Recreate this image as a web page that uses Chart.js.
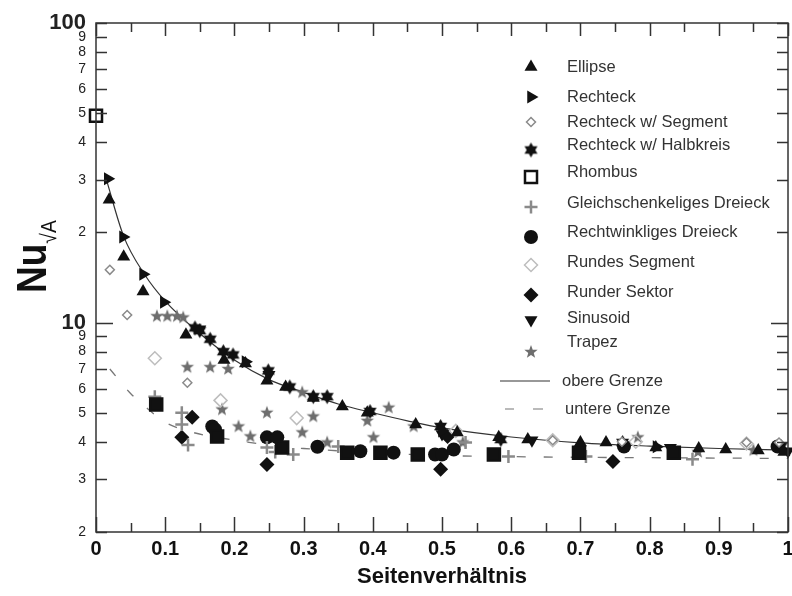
<!DOCTYPE html>
<html>
<head>
<meta charset="utf-8">
<script src="https://cdn.jsdelivr.net/npm/chart.js@4.4.0/dist/chart.umd.min.js"></script>
<style>
html, body { margin: 0; padding: 0; background: #fff; }
#wrap { width: 792px; height: 596px; }
</style>
</head>
<body>
<div id="wrap"><canvas id="js--chart"></canvas></div>
<script>
// ticks
const xTicks = [0, 0.1, 0.2, 0.3, 0.4, 0.5, 0.6, 0.7, 0.8, 0.9, 1];
const xTickLabels = ['0', '0.1', '0.2', '0.3', '0.4', '0.5', '0.6', '0.7', '0.8', '0.9', '1'];
const xMinorTicks = [0.05, 0.15, 0.25, 0.35, 0.45, 0.55, 0.65, 0.75, 0.85, 0.95];
const yTicks = [2, 3, 4, 5, 6, 7, 8, 9, 10, 20, 30, 40, 50, 60, 70, 80, 90, 100];
const yTickLabels = ['2', '3', '4', '5', '6', '7', '8', '9', '10', '2', '3', '4', '5', '6', '7', '8', '9', '100'];

// series
const ellipseX = [0.019, 0.04, 0.068, 0.13, 0.185, 0.216, 0.247, 0.274, 0.314, 0.356, 0.392, 0.462, 0.522, 0.582, 0.624, 0.70, 0.737, 0.809, 0.871, 0.91, 0.957, 0.994];
const ellipseY = [25.7, 16.6, 12.7, 9.1, 7.5, 7.3, 6.4, 6.1, 5.6, 5.25, 5.0, 4.57, 4.3, 4.14, 4.07, 3.98, 3.98, 3.83, 3.8, 3.77, 3.74, 3.7];
const rechteckX = [0.017, 0.039, 0.068, 0.098, 0.216, 0.5, 0.81];
const rechteckY = [30.2, 19.3, 14.5, 11.7, 7.4, 4.35, 3.85];
const segmentX = [0.02, 0.045, 0.132, 0.66, 0.76, 0.94, 0.987];
const segmentY = [15.0, 10.6, 6.3, 4.05, 4.0, 3.98, 3.98];
const halbkreisX = [0.143, 0.15, 0.165, 0.184, 0.198, 0.249, 0.28, 0.314, 0.334, 0.396, 0.498, 0.585, 0.761, 0.99];
const halbkreisY = [9.6, 9.4, 8.8, 8.0, 7.8, 6.9, 6.1, 5.66, 5.66, 5.05, 4.5, 4.07, 3.98, 3.86];
const rhombusX = [0, 0.087, 0.175, 0.269, 0.363, 0.411, 0.465, 0.575, 0.698, 0.835];
const rhombusY = [49, 5.33, 4.17, 3.83, 3.68, 3.68, 3.63, 3.63, 3.68, 3.68];
const gleichX = [0.085, 0.124, 0.124, 0.133, 0.247, 0.259, 0.285, 0.35, 0.534, 0.596, 0.708, 0.862];
const gleichY = [5.66, 5.0, 4.57, 3.9, 3.83, 3.7, 3.63, 3.86, 3.98, 3.57, 3.57, 3.5];
const rechtwX = [0.168, 0.172, 0.247, 0.262, 0.32, 0.382, 0.43, 0.49, 0.5, 0.517, 0.763, 0.985];
const rechtwY = [4.5, 4.4, 4.14, 4.14, 3.85, 3.72, 3.68, 3.63, 3.63, 3.77, 3.86, 3.86];
const rundSegX = [0.085, 0.18, 0.29, 0.52, 0.66, 0.78, 0.94];
const rundSegY = [7.6, 5.5, 4.8, 4.35, 4.05, 4.0, 3.95];
const sektorX = [0.124, 0.139, 0.247, 0.498, 0.508, 0.747];
const sektorY = [4.14, 4.83, 3.36, 3.24, 4.17, 3.44];
const sinusX = [0.15, 0.25, 0.5, 0.63, 0.83, 1.0];
const sinusY = [9.5, 6.7, 4.25, 4.05, 3.82, 3.72];
const trapezX = [0.088, 0.103, 0.117, 0.126, 0.132, 0.165, 0.191, 0.182, 0.206, 0.223, 0.247, 0.298, 0.298, 0.314, 0.334, 0.392, 0.401, 0.423, 0.459, 0.53, 0.783, 0.87, 0.95];
const trapezY = [10.5, 10.5, 10.5, 10.4, 7.1, 7.1, 7.0, 5.13, 4.5, 4.17, 5.0, 5.85, 4.3, 4.86, 3.98, 4.7, 4.14, 5.2, 4.5, 3.98, 4.14, 3.7, 3.75];
const upperX = [0.015, 0.04, 0.07, 0.1, 0.15, 0.2, 0.25, 0.3, 0.35, 0.4, 0.45, 0.5, 0.6, 0.7, 0.8, 0.9, 1.0];
const upperY = [30, 19.4, 14.5, 11.8, 9.2, 7.5, 6.45, 5.85, 5.35, 5.0, 4.7, 4.45, 4.15, 3.97, 3.87, 3.8, 3.75];
const lowerX = [0.02, 0.05, 0.075, 0.1, 0.14, 0.2, 0.25, 0.3, 0.4, 0.5, 0.6, 0.7, 0.8, 0.9, 1.0];
const lowerY = [7.0, 5.8, 5.15, 4.65, 4.3, 4.05, 3.9, 3.8, 3.68, 3.6, 3.57, 3.55, 3.54, 3.53, 3.52];

function pairs(xs, ys) {
    return xs.map(function (x, i) { return { x: x, y: ys[i] }; });
}

function starCanvas(points, outer, inner, color) {
    const size = Math.ceil(outer * 2) + 2;
    const c = document.createElement("canvas");
    c.width = size;
    c.height = size;
    const g = c.getContext("2d");
    g.fillStyle = color;
    g.beginPath();
    for (let i = 0; i < points * 2; i++) {
        const r = i % 2 === 0 ? outer : inner;
        const a = -Math.PI / 2 + i * Math.PI / points;
        const px = size / 2 + Math.cos(a) * r;
        const py = size / 2 + Math.sin(a) * r;
        if (i === 0) g.moveTo(px, py); else g.lineTo(px, py);
    }
    g.closePath();
    g.fill();
    return c;
}

const hexStar = starCanvas(6, 7.5, 4.3, '#111');
const fiveStar = starCanvas(5, 7, 2.9, '#6e6e6e');
const black = '#111';

function points(label, xs, ys, style) {
    return Object.assign({
        label: label,
        data: pairs(xs, ys),
        showLine: false,
        clip: false,
        order: 1
    }, style);
}

const datasets = [
    points('Ellipse', ellipseX, ellipseY, { pointStyle: 'triangle', pointRadius: 7.5, backgroundColor: black, borderColor: black, borderWidth: 0 }),
    points('Rechteck', rechteckX, rechteckY, { pointStyle: 'triangle', pointRotation: 90, pointRadius: 7.5, backgroundColor: black, borderColor: black, borderWidth: 0 }),
    points('Rechteck w/ Segment', segmentX, segmentY, { pointStyle: 'rectRot', pointRadius: 4.5, backgroundColor: '#fff', borderColor: '#8a8a8a', borderWidth: 1.5 }),
    points('Rechteck w/ Halbkreis', halbkreisX, halbkreisY, { pointStyle: hexStar }),
    points('Rhombus', rhombusX, rhombusY, { pointStyle: 'rect', pointRadius: 8.5, pointBackgroundColor: rhombusX.map(function (x, i) { return i === 0 ? '#fff' : black; }), borderColor: black, borderWidth: 2.5 }),
    points('Gleichschenkeliges Dreieck', gleichX, gleichY, { pointStyle: 'cross', pointRadius: 6.5, borderColor: '#8a8a8a', borderWidth: 2.5 }),
    points('Rechtwinkliges Dreieck', rechtwX, rechtwY, { pointStyle: 'circle', pointRadius: 7, backgroundColor: black, borderColor: black, borderWidth: 0 }),
    points('Rundes Segment', rundSegX, rundSegY, { pointStyle: 'rectRot', pointRadius: 6.5, backgroundColor: 'rgba(255,255,255,0)', borderColor: '#bdbdbd', borderWidth: 1.5 }),
    points('Runder Sektor', sektorX, sektorY, { pointStyle: 'rectRot', pointRadius: 7.5, backgroundColor: black, borderColor: black, borderWidth: 0 }),
    points('Sinusoid', sinusX, sinusY, { pointStyle: 'triangle', pointRotation: 180, pointRadius: 7.5, backgroundColor: black, borderColor: black, borderWidth: 0 }),
    points('Trapez', trapezX, trapezY, { pointStyle: fiveStar }),
    {
        label: 'obere Grenze', type: 'line', data: pairs(upperX, upperY), showLine: true, pointRadius: 0,
        borderColor: '#333', borderWidth: 1.2, cubicInterpolationMode: 'monotone', fill: false, order: 20
    },
    {
        label: 'untere Grenze', type: 'line', data: pairs(lowerX, lowerY), showLine: true, pointRadius: 0,
        borderColor: '#777', borderWidth: 1.3, borderDash: [9, 18], cubicInterpolationMode: 'monotone', fill: false, order: 20
    }
];

// legend rows: dataset index, marker y, text y
const legendRows = [
    [0, 67, 67], [1, 97, 97], [2, 122, 122], [3, 150, 145], [4, 177, 172], [5, 207, 203],
    [6, 237, 232], [7, 265, 262], [8, 295, 292], [9, 320, 318], [10, 352, 342]
];

const frame = {
    id: 'frame',
    afterDraw: function (chart) {
        const ctx = chart.ctx;
        const a = chart.chartArea;
        const xs = chart.scales.x, ys = chart.scales.y;
        ctx.save();
        ctx.strokeStyle = '#333';
        ctx.lineWidth = 1.5;
        ctx.strokeRect(a.left, a.top, a.right - a.left, a.bottom - a.top);
        ctx.beginPath();
        yTicks.forEach(function (v) {
            const py = Math.round(ys.getPixelForValue(v)) + 0.5;
            const len = v === 10 ? 17 : 11;
            ctx.moveTo(a.left, py); ctx.lineTo(a.left + len, py);
            ctx.moveTo(a.right, py); ctx.lineTo(a.right - len, py);
        });
        xTicks.forEach(function (v) {
            const px = Math.round(xs.getPixelForValue(v)) + 0.5;
            ctx.moveTo(px, a.bottom); ctx.lineTo(px, a.bottom - 15);
            ctx.moveTo(px, a.top); ctx.lineTo(px, a.top + 13);
        });
        xMinorTicks.forEach(function (v) {
            const px = Math.round(xs.getPixelForValue(v)) + 0.5;
            ctx.moveTo(px, a.bottom); ctx.lineTo(px, a.bottom - 9);
            ctx.moveTo(px, a.top); ctx.lineTo(px, a.top + 9);
        });
        ctx.stroke();

        // y title with subscript
        ctx.fillStyle = '#111';
        ctx.translate(46, 293);
        ctx.rotate(-Math.PI / 2);
        ctx.scale(0.88, 1);
        ctx.font = 'bold 42px "Liberation Sans", Arial, sans-serif';
        ctx.textBaseline = 'alphabetic';
        ctx.textAlign = 'left';
        ctx.fillText('Nu', 0, 0);
        const w = ctx.measureText('Nu').width;
        ctx.font = '22px "Liberation Sans", Arial, sans-serif';
        ctx.fillText('\u221AA', w, 10);
        ctx.restore();

        // legend
        ctx.save();
        ctx.font = '16.5px "Liberation Sans", Arial, sans-serif';
        ctx.textBaseline = 'middle';
        ctx.textAlign = 'left';
        legendRows.forEach(function (row) {
            const ds = chart.data.datasets[row[0]];
            ctx.save();
            ctx.fillStyle = row[0] === 4 ? '#fff' : (ds.backgroundColor || '#111');
            ctx.strokeStyle = ds.borderColor || '#111';
            ctx.lineWidth = ds.borderWidth || 0;
            Chart.helpers.drawPoint(ctx, {
                pointStyle: ds.pointStyle,
                rotation: ds.pointRotation || 0,
                radius: ds.pointRadius || 7,
                borderWidth: ds.borderWidth || 0
            }, 531, row[1]);
            ctx.restore();
            ctx.fillStyle = '#333';
            ctx.fillText(ds.label, 567, row[2]);
        });
        ctx.strokeStyle = '#333';
        ctx.lineWidth = 1.2;
        ctx.beginPath();
        ctx.moveTo(500, 381); ctx.lineTo(550, 381);
        ctx.stroke();
        ctx.strokeStyle = '#777';
        ctx.beginPath();
        ctx.moveTo(505, 409); ctx.lineTo(514, 409);
        ctx.moveTo(533, 409); ctx.lineTo(543, 409);
        ctx.stroke();
        ctx.fillStyle = '#333';
        ctx.fillText(datasets[11].label, 562, 381);
        ctx.fillText(datasets[12].label, 565, 409);
        ctx.restore();
    }
};

new Chart(document.getElementById("js--chart"), {
    type: 'scatter',
    data: { datasets: datasets },
    options: {
        responsive: true,
        maintainAspectRatio: false,
        animation: false,
        devicePixelRatio: 1,
        layout: { autoPadding: false, padding: { top: 23, right: 4, left: 0, bottom: 0 } },
        plugins: {
            legend: { display: false },
            tooltip: { enabled: false }
        },
        scales: {
            x: {
                type: 'linear',
                min: 0,
                max: 1,
                afterBuildTicks: function (scale) {
                    scale.ticks = xTicks.map(function (v) { return { value: v }; });
                },
                afterFit: function (scale) {
                    scale.height = 64;
                    scale.paddingLeft = 0;
                    scale.paddingRight = 0;
                },
                grid: { display: false, drawTicks: false },
                border: { display: false },
                ticks: {
                    autoSkip: false,
                    maxRotation: 0,
                    padding: 0,
                    color: '#111',
                    font: { family: '"Liberation Sans", Arial, sans-serif', size: 20, weight: 'bold', lineHeight: 1.7 },
                    callback: function (v, i) { return xTickLabels[i]; }
                },
                title: {
                    display: true,
                    text: 'Seitenverh\u00e4ltnis',
                    color: '#111',
                    padding: { top: 0, bottom: 6 },
                    font: { family: '"Liberation Sans", Arial, sans-serif', size: 22, weight: 'bold' }
                }
            },
            y: {
                type: 'logarithmic',
                min: 2,
                max: 100,
                afterBuildTicks: function (scale) {
                    scale.ticks = yTicks.map(function (v) { return { value: v }; });
                },
                afterFit: function (scale) {
                    scale.width = 96;
                    scale.paddingTop = 0;
                    scale.paddingBottom = 0;
                },
                grid: { display: false, drawTicks: false },
                border: { display: false },
                ticks: {
                    autoSkip: false,
                    padding: 10,
                    color: '#222',
                    font: function (ctx) {
                        const v = ctx.tick ? ctx.tick.value : 0;
                        if (v === 10 || v === 100) {
                            return { family: '"Liberation Sans Narrow", "Liberation Sans", Arial, sans-serif', size: 22, weight: 'bold' };
                        }
                        return { family: '"Liberation Sans", Arial, sans-serif', size: 14 };
                    },
                    callback: function (v, i) { return yTickLabels[i]; }
                }
            }
        }
    },
    plugins: [frame]
});
</script>
</body>
</html>
